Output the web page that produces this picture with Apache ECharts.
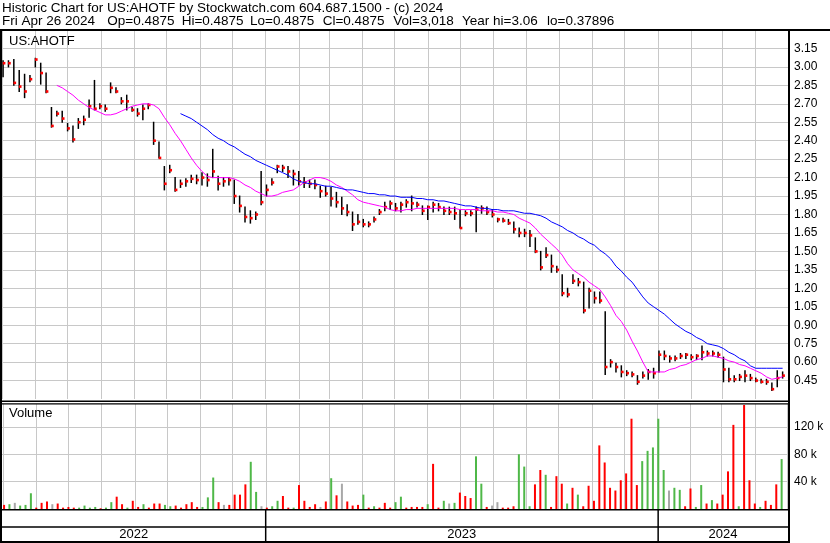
<!DOCTYPE html>
<html>
<head>
<meta charset="utf-8">
<script src="https://cdn.jsdelivr.net/npm/echarts@6/dist/echarts.min.js"></script>
<style>
html,body{margin:0;padding:0;background:#fff;}
#chart{width:830px;height:543px;}
</style>
</head>
<body>
<div id="chart"></div>
<script>
// ---------- DATA ----------
// Sample dates: one sample every 5 calendar days starting 2022-05-02
const sampleStart = Date.UTC(2022, 4, 2);
const sampleStepDays = 5;
const axisStart = Date.UTC(2022, 4, 1);
const axisEnd = Date.UTC(2024, 4, 1);

const closes = [
  3.03, 3.03, 2.87, 2.84, 2.80, 2.90, 3.06, 2.95, 2.80, 2.52,
  2.62, 2.58, 2.50, 2.41, 2.55, 2.57, 2.68, 2.66, 2.68, 2.66,
  2.83, 2.80, 2.72, 2.72, 2.65, 2.62, 2.66, 2.69, 2.40, 2.26,
  2.05, 2.16, 2.00, 2.05, 2.07, 2.09, 2.08, 2.10, 2.08, 2.15,
  2.05, 2.07, 2.08, 1.95, 1.87, 1.78, 1.77, 1.80, 1.90, 2.00,
  2.06, 2.19, 2.18, 2.15, 2.13, 2.07, 2.06, 2.05, 2.04, 1.99,
  1.97, 1.93, 1.90, 1.85, 1.82, 1.72, 1.74, 1.72, 1.72, 1.76,
  1.82, 1.86, 1.89, 1.85, 1.88, 1.90, 1.89, 1.88, 1.83, 1.86,
  1.88, 1.86, 1.83, 1.82, 1.81, 1.69, 1.81, 1.81, 1.84, 1.85,
  1.82, 1.80, 1.76, 1.75, 1.73, 1.68, 1.65, 1.65, 1.63, 1.50,
  1.37, 1.47, 1.38, 1.35, 1.16, 1.15, 1.26, 1.25, 1.02, 1.18,
  1.12, 1.10, 0.56, 0.60, 0.56, 0.52, 0.51, 0.50, 0.44, 0.49,
  0.52, 0.51, 0.66, 0.65, 0.63, 0.63, 0.65, 0.66, 0.64, 0.65,
  0.68, 0.67, 0.67, 0.66, 0.54, 0.46, 0.46, 0.48, 0.49, 0.47,
  0.45, 0.44, 0.44, 0.38, 0.47, 0.49
];
const highs = [
  3.05, 3.05, 3.06, 2.97, 2.94, 2.93, 3.07, 3.03, 2.95, 2.67,
  2.64, 2.64, 2.54, 2.52, 2.58, 2.60, 2.73, 2.89, 2.70, 2.69,
  2.87, 2.83, 2.75, 2.77, 2.67, 2.66, 2.69, 2.70, 2.55, 2.39,
  2.19, 2.20, 2.10, 2.08, 2.09, 2.12, 2.12, 2.14, 2.13, 2.33,
  2.11, 2.10, 2.10, 2.08, 1.95, 1.86, 1.83, 1.82, 2.15, 2.04,
  2.09, 2.20, 2.20, 2.19, 2.16, 2.15, 2.10, 2.08, 2.08, 2.03,
  2.03, 2.02, 1.98, 1.94, 1.88, 1.82, 1.80, 1.76, 1.74, 1.78,
  1.84, 1.90, 1.91, 1.89, 1.90, 1.92, 1.95, 1.90, 1.87, 1.87,
  1.90, 1.89, 1.86, 1.86, 1.86, 1.84, 1.83, 1.83, 1.86, 1.87,
  1.86, 1.84, 1.77, 1.77, 1.76, 1.74, 1.69, 1.68, 1.67, 1.61,
  1.50, 1.53, 1.47, 1.38, 1.31, 1.20, 1.31, 1.28, 1.25, 1.20,
  1.17, 1.17, 1.01, 0.62, 0.59, 0.57, 0.53, 0.52, 0.49, 0.52,
  0.54, 0.55, 0.69, 0.69, 0.65, 0.65, 0.67, 0.67, 0.66, 0.66,
  0.73, 0.69, 0.69, 0.68, 0.64, 0.55, 0.49, 0.50, 0.53, 0.50,
  0.47, 0.46, 0.46, 0.43, 0.53, 0.52
];
const lows = [
  2.92, 3.00, 2.85, 2.80, 2.75, 2.88, 3.00, 2.86, 2.79, 2.51,
  2.60, 2.55, 2.48, 2.39, 2.50, 2.53, 2.59, 2.65, 2.66, 2.64,
  2.79, 2.79, 2.70, 2.65, 2.64, 2.60, 2.57, 2.66, 2.37, 2.26,
  2.00, 2.14, 1.99, 2.02, 2.03, 2.06, 2.05, 2.04, 2.03, 2.10,
  2.00, 2.03, 2.04, 1.89, 1.82, 1.74, 1.73, 1.76, 1.88, 1.95,
  2.04, 2.14, 2.15, 2.10, 2.04, 2.04, 2.02, 2.02, 2.01, 1.94,
  1.95, 1.87, 1.86, 1.80, 1.79, 1.67, 1.72, 1.70, 1.70, 1.74,
  1.80, 1.83, 1.84, 1.83, 1.82, 1.86, 1.83, 1.86, 1.80, 1.76,
  1.82, 1.83, 1.80, 1.80, 1.76, 1.69, 1.79, 1.79, 1.66, 1.81,
  1.80, 1.78, 1.74, 1.74, 1.72, 1.65, 1.62, 1.62, 1.54, 1.49,
  1.35, 1.45, 1.33, 1.33, 1.14, 1.13, 1.24, 1.22, 1.00, 1.04,
  1.08, 1.08, 0.50, 0.56, 0.52, 0.48, 0.49, 0.48, 0.42, 0.47,
  0.46, 0.47, 0.52, 0.62, 0.60, 0.61, 0.63, 0.63, 0.62, 0.62,
  0.62, 0.65, 0.65, 0.64, 0.44, 0.44, 0.44, 0.45, 0.44, 0.45,
  0.44, 0.43, 0.42, 0.37, 0.40, 0.47
];
const maShort = [
  null, null, null, null, null, null, null, null, null, null,
  2.85, 2.83, 2.80, 2.77, 2.73, 2.70, 2.67, 2.65, 2.63, 2.61,
  2.61, 2.62, 2.64, 2.66, 2.68, 2.69, 2.70, 2.70, 2.69, 2.66,
  2.59, 2.53, 2.46, 2.40, 2.33, 2.26, 2.20, 2.15, 2.11, 2.10,
  2.10, 2.10, 2.10, 2.09, 2.07, 2.04, 2.02, 1.99, 1.97, 1.95,
  1.95, 1.96, 1.98, 1.99, 2.00, 2.03, 2.06, 2.08, 2.10, 2.10,
  2.09, 2.07, 2.04, 2.02, 1.99, 1.96, 1.92, 1.90, 1.89, 1.88,
  1.87, 1.86, 1.84, 1.83, 1.83, 1.84, 1.84, 1.85, 1.85, 1.85,
  1.85, 1.85, 1.85, 1.85, 1.85, 1.84, 1.84, 1.84, 1.84, 1.83,
  1.83, 1.83, 1.82, 1.82, 1.81, 1.80, 1.77, 1.75, 1.73, 1.69,
  1.64, 1.60, 1.56, 1.52, 1.47, 1.40, 1.35, 1.32, 1.29, 1.25,
  1.22, 1.19, 1.13, 1.06, 0.98, 0.93, 0.86, 0.77, 0.69, 0.60,
  0.52, 0.52, 0.52, 0.52, 0.54, 0.55, 0.57, 0.58, 0.60, 0.62,
  0.63, 0.65, 0.65, 0.64, 0.63, 0.61, 0.60, 0.58, 0.57, 0.55,
  0.53, 0.51, 0.48, 0.46, 0.47, 0.48
];
const maLong = [
  null, null, null, null, null, null, null, null, null, null,
  null, null, null, null, null, null, null, null, null, null,
  null, null, null, null, null, null, null, null, null, null,
  null, null, null, 2.62, 2.60, 2.58, 2.55, 2.52, 2.49, 2.45,
  2.42, 2.40, 2.37, 2.35, 2.32, 2.29, 2.27, 2.24, 2.22, 2.20,
  2.18, 2.16, 2.14, 2.12, 2.09, 2.07, 2.06, 2.05, 2.05, 2.04,
  2.03, 2.03, 2.02, 2.01, 2.00, 2.00, 1.99, 1.98, 1.97, 1.97,
  1.96, 1.96, 1.95, 1.95, 1.94, 1.94, 1.94, 1.93, 1.93, 1.92,
  1.92, 1.91, 1.91, 1.90, 1.89, 1.88, 1.87, 1.87, 1.86, 1.85,
  1.85, 1.84, 1.84, 1.83, 1.83, 1.83, 1.82, 1.81, 1.81, 1.80,
  1.79, 1.77, 1.74, 1.72, 1.70, 1.67, 1.65, 1.62, 1.60, 1.57,
  1.55, 1.51, 1.48, 1.44, 1.38, 1.34, 1.29, 1.25, 1.19, 1.13,
  1.08, 1.05, 1.02, 0.99, 0.95, 0.91, 0.88, 0.85, 0.83, 0.80,
  0.78, 0.75, 0.74, 0.73, 0.71, 0.68, 0.66, 0.63, 0.61, 0.57,
  0.55, 0.55, 0.55, 0.55, 0.55, 0.55
];
// volume in thousands of shares
const volumesK = [
  6, 7, 9, 5, 6, 23, 2, 9, 11, 7,
  8, 2, 3, 2, 2, 5, 2, 3, 1, 2,
  10, 18, 7, 2, 12, 3, 7, 2, 8, 8,
  6, 4, 5, 2, 7, 10, 3, 3, 17, 46,
  10, 6, 6, 21, 21, 36, 69, 25, 4, 2,
  4, 12, 19, 2, 2, 35, 12, 3, 7, 3,
  11, 45, 20, 37, 11, 5, 6, 21, 2, 4,
  2, 9, 2, 10, 18, 2, 3, 3, 3, 7,
  66, 2, 12, 8, 9, 24, 19, 16, 77, 37,
  3, 5, 10, 2, 2, 4, 80, 62, 4, 36,
  57, 50, 3, 48, 37, 8, 31, 21, 4, 34,
  12, 93, 68, 31, 27, 42, 52, 132, 35, 70,
  85, 90, 132, 57, 27, 31, 28, 4, 30, 3,
  35, 8, 13, 8, 21, 55, 123, 4, 152, 42,
  8, 3, 12, 6, 36, 73
];
// r = down day (red), g = up day (green), n = unchanged (grey)
const volumeDir = (
  'rgngggrrrn' + 'rrrrggggrg' + 'grrgrrgrrr' + 'ggrrrrrggg' + 'rnrrrrggnr' +
  'ggrrgrrrrn' + 'rgrnrrrgrg' + 'rrrggrrrrg' + 'rrgngrrrgg' + 'rnnrrrgggr' +
  'rgrrrgrgrr' + 'rrrrrrrrrg' + 'ggggnggrrg' + 'grgrrrrgrr' + 'rgrrrg'
).split('');

const yearLabels = ['2022', '2023', '2024'];
const yearStarts = [Date.UTC(2022, 4, 1), Date.UTC(2023, 0, 1), Date.UTC(2024, 0, 1)];
const yearEnds = [Date.UTC(2023, 0, 1), Date.UTC(2024, 0, 1), Date.UTC(2024, 4, 1)];

const headerLine1 = 'Historic Chart for US:AHOTF by Stockwatch.com 604.687.1500 - (c) 2024';
const headerLine2 = ['Fri Apr 26 2024', 'Op=0.4875', 'Hi=0.4875', 'Lo=0.4875', 'Cl=0.4875', 'Vol=3,018', 'Year hi=3.06', 'lo=0.37896'];
const symbolLabel = 'US:AHOTF';
const volumeLabel = 'Volume';

// ---------- BUILD ----------
const DAY = 86400000;
const dates = closes.map((_, i) => sampleStart + i * sampleStepDays * DAY);
const FONT = '"Liberation Sans", Arial, sans-serif';
const GRID_COLOR = '#c8c8c8';
const volColors = { r: '#ff0000', g: '#4fb848', n: '#a8a8a8' };

const chart = echarts.init(document.getElementById('chart'), null, { renderer: 'canvas' });

function timeAxis(gridIndex, showSplit) {
  return {
    type: 'time', gridIndex, min: axisStart, max: axisEnd, splitNumber: 24,
    axisLine: { show: false }, axisTick: { show: false }, axisLabel: { show: false },
    splitLine: { show: showSplit, showMinLine: false, showMaxLine: false, lineStyle: { color: GRID_COLOR, width: 1 } }
  };
}

const headerX = [2, 107.3, 181.7, 250, 322.7, 393.3, 462, 547];
const graphics = [];
graphics.push({ type: 'text', x: 2, y: 8, z: 100, style: { text: headerLine1, fill: '#000', fontSize: 13.5, fontFamily: FONT, verticalAlign: 'middle' } });
headerLine2.forEach((t, i) => graphics.push({ type: 'text', x: headerX[i], y: 21.5, z: 100, style: { text: t, fill: '#000', fontSize: 13.5, fontFamily: FONT, verticalAlign: 'middle' } }));
graphics.push({ type: 'text', x: 9, y: 41, z: 100, style: { text: symbolLabel, fill: '#000', fontSize: 13, fontFamily: FONT, verticalAlign: 'middle' } });
graphics.push({ type: 'text', x: 9, y: 413.5, z: 100, style: { text: volumeLabel, fill: '#000', fontSize: 13, fontFamily: FONT, verticalAlign: 'middle' } });
// frame lines
const frame = [
  [0, 29, 830, 2],     // under header
  [0, 29, 2, 514],     // left
  [788, 29, 2, 514],   // right of plot
  [0, 400.5, 790, 1.5],  // price bottom
  [0, 403.2, 790, 1.3],  // volume top
  [0, 509, 790, 1.5],  // volume bottom
  [0, 526.3, 790, 1.5],// strip divider
  [0, 541, 790, 2]     // bottom
];
frame.forEach(f => graphics.push({ type: 'rect', z: 100, shape: { x: f[0], y: f[1], width: f[2], height: f[3] }, style: { fill: '#000' } }));

const option = {
  useUTC: true,
  animation: false,
  backgroundColor: '#fff',
  grid: [
    { left: 2, right: 42, top: 30, height: 369 },
    { left: 2, right: 42, top: 404, height: 105 },
    { left: 2, right: 42, top: 510, height: 31 }
  ],
  xAxis: [timeAxis(0, true), timeAxis(1, true), timeAxis(2, false)],
  yAxis: [
    {
      type: 'value', gridIndex: 0, position: 'right', min: 0.30, max: 3.30, interval: 0.15,
      axisLine: { show: false }, axisTick: { show: false },
      axisLabel: { color: '#000', fontSize: 12, fontFamily: FONT, margin: 6,
        formatter: v => (v < 0.4 || v > 3.2) ? '' : v.toFixed(2) },
      splitLine: { show: true, showMinLine: false, showMaxLine: false, lineStyle: { color: GRID_COLOR, width: 1 } }
    },
    {
      type: 'value', gridIndex: 1, position: 'right', min: 0, max: 153500, interval: 40000,
      axisLine: { show: false }, axisTick: { show: false },
      axisLabel: { color: '#000', fontSize: 12, fontFamily: FONT, margin: 6,
        formatter: v => (v > 0 && v < 150000) ? (Math.round(v / 1000) + ' k') : '' },
      splitLine: { show: true, showMinLine: false, showMaxLine: false, lineStyle: { color: GRID_COLOR, width: 1 } }
    },
    { type: 'value', gridIndex: 2, min: 0, max: 1, show: false }
  ],
  series: [
    {
      type: 'custom', name: 'price', xAxisIndex: 0, yAxisIndex: 0, z: 3,
      dimensions: [{ name: 't', type: 'time' }, 'lo', 'hi', 'c'],
      encode: { x: 't', y: ['lo', 'hi', 'c'] },
      data: dates.map((d, i) => [d, lows[i], highs[i], closes[i]]),
      renderItem(params, api) {
        const t = api.value(0);
        const pl = api.coord([t, api.value(1)]);
        const ph = api.coord([t, api.value(2)]);
        const pc = api.coord([t, api.value(3)]);
        return {
          type: 'group',
          children: [
            { type: 'line', shape: { x1: pl[0], y1: pl[1] + 0.5, x2: ph[0], y2: ph[1] - 0.5 }, style: { stroke: '#000', lineWidth: 1.5 } },
            { type: 'rect', shape: { x: pc[0] - 0.3, y: pc[1] - 1.3, width: 2.6, height: 2.6 }, style: { fill: '#ff0000' } }
          ]
        };
      }
    },
    {
      type: 'line', name: 'MA short', xAxisIndex: 0, yAxisIndex: 0, z: 4,
      data: dates.map((d, i) => [d, maShort[i]]),
      showSymbol: false, symbol: 'none', lineStyle: { color: '#ff00ff', width: 1 }, itemStyle: { color: '#ff00ff' }
    },
    {
      type: 'line', name: 'MA long', xAxisIndex: 0, yAxisIndex: 0, z: 4,
      data: dates.map((d, i) => [d, maLong[i]]),
      showSymbol: false, symbol: 'none', lineStyle: { color: '#0000ff', width: 1 }, itemStyle: { color: '#0000ff' }
    },
    {
      type: 'bar', name: 'Volume', xAxisIndex: 1, yAxisIndex: 1, barWidth: 2,
      data: dates.map((d, i) => ({ value: [d, volumesK[i] * 1000], itemStyle: { color: volColors[volumeDir[i]] } }))
    },
    {
      type: 'custom', name: 'years', xAxisIndex: 2, yAxisIndex: 2,
      dimensions: [{ name: 's', type: 'time' }, { name: 'e', type: 'time' }],
      encode: { x: ['s', 'e'] },
      data: yearStarts.map((s, i) => [s, yearEnds[i]]),
      renderItem(params, api) {
        const cs = params.coordSys;
        const a = api.coord([api.value(0), 0])[0];
        const b = api.coord([api.value(1), 0])[0];
        const left = Math.max(a, cs.x), right = Math.min(b, cs.x + cs.width);
        const children = [{
          type: 'text', x: (left + right) / 2, y: cs.y + 24.5,
          style: { text: yearLabels[params.dataIndex], fill: '#000', fontSize: 13, fontFamily: FONT, align: 'center', verticalAlign: 'middle' }
        }];
        if (a > cs.x + 2) {
          children.push({ type: 'rect', shape: { x: a - 0.5, y: cs.y, width: 1.5, height: cs.height }, style: { fill: '#000' } });
        }
        return { type: 'group', children };
      }
    }
  ],
  graphic: graphics
};
chart.setOption(option);
</script>
</body>
</html>
